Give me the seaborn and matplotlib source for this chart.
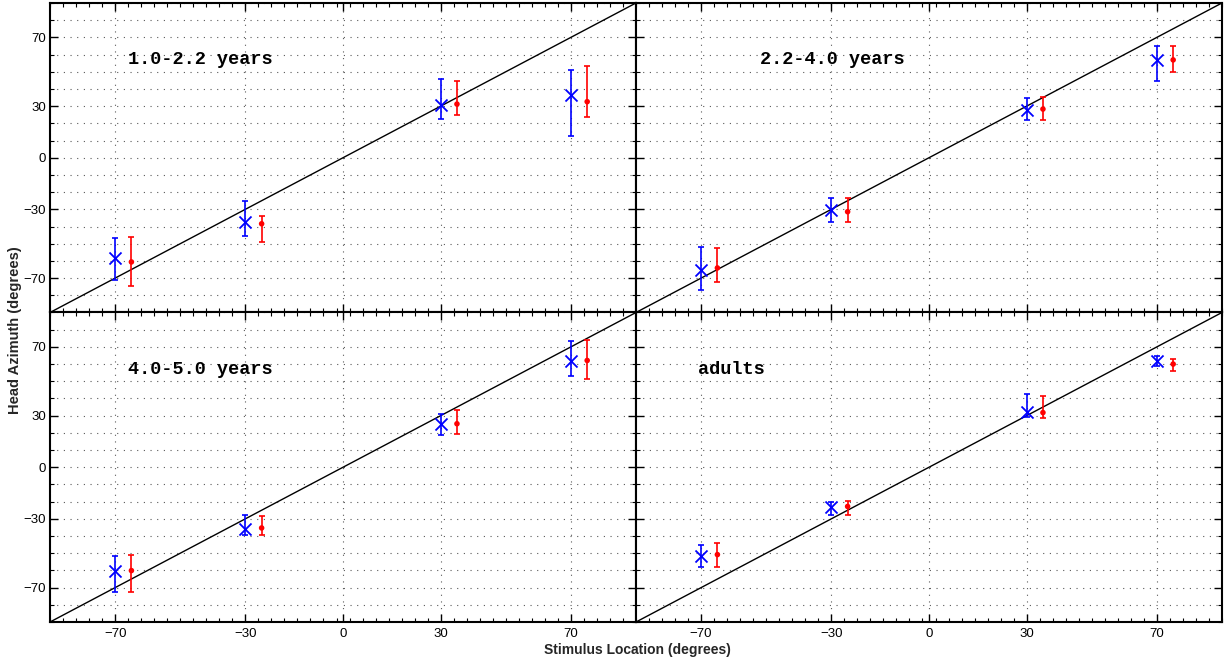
import numpy as np
import matplotlib
matplotlib.use("Agg")
import matplotlib.pyplot as plt
import seaborn as sns

# ---------------- data ----------------
locations = [-70, -30, 30, 70]
panel_titles = ["1.0-2.2 years", "2.2-4.0 years", "4.0-5.0 years", "adults"]

# blue (x markers): mean, lower end, upper end of error bar
blue_mean = [
    [-58.5, -37.4, 30.4, 36.6],
    [-65.2, -30.2, 27.9, 56.9],
    [-60.5, -35.7, 25.3, 61.5],
    [-51.4, -23.4, 32.1, 61.9],
]
blue_low = [
    [-70.9, -45.7, 22.7, 12.8],
    [-77.2, -37.5, 22.1, 44.6],
    [-72.5, -39.5, 18.9, 52.8],
    [-57.8, -27.5, 29.5, 58.6],
]
blue_high = [
    [-46.7, -25.4, 45.8, 51.0],
    [-51.7, -23.2, 34.5, 65.1],
    [-51.8, -27.6, 31.1, 73.7],
    [-45.0, -20.2, 42.6, 64.8],
]

# red (dots): mean, lower end, upper end of error bar
red_mean = [
    [-60.6, -38.4, 31.2, 32.6],
    [-64.1, -31.4, 28.3, 56.9],
    [-60.1, -35.3, 25.3, 62.1],
    [-50.8, -22.8, 31.8, 60.0],
]
red_low = [
    [-74.4, -49.0, 24.8, 23.7],
    [-72.4, -37.5, 22.1, 50.0],
    [-72.5, -39.5, 19.3, 51.2],
    [-57.8, -27.6, 28.6, 56.2],
]
red_high = [
    [-46.3, -33.7, 44.9, 53.1],
    [-52.3, -23.6, 35.1, 64.7],
    [-51.2, -28.2, 33.4, 74.1],
    [-43.9, -19.9, 41.5, 63.0],
]

major_ticks = [-70, -30, 0, 30, 70]

# ---------------- layout / style ----------------
red_shift = 5
title_pos = [(-66, 57), (-52, 57), (-66, 57), (-71, 57)]

sns.set_theme(style="white")
plt.rcParams["font.family"] = ["Liberation Sans", "DejaVu Sans"]

fig, axes = plt.subplots(2, 2, figsize=(12.29, 6.61), dpi=100,
                         sharex=True, sharey=True)
fig.subplots_adjust(left=0.0407, right=0.9943, top=0.9955, bottom=0.059,
                    wspace=0, hspace=0)

def fmt(t):
    return str(t) if t >= 0 else "\u2212" + str(-t)

for i, ax in enumerate(axes.flat):
    ax.set_facecolor("white")
    loc = np.array(locations, dtype=float)
    bm = np.array(blue_mean[i]); bl = np.array(blue_low[i]); bh = np.array(blue_high[i])
    rm = np.array(red_mean[i]); rl = np.array(red_low[i]); rh = np.array(red_high[i])

    # identity line
    sns.lineplot(x=[-90, 90], y=[-90, 90], color="black", linewidth=1.0,
                 ax=ax, zorder=2)

    # error bars
    ax.errorbar(loc, bm, yerr=[bm - bl, bh - bm], fmt="none", ecolor="blue",
                elinewidth=1.2, capsize=2.4, capthick=1.2, zorder=3)
    ax.errorbar(loc + red_shift, rm, yerr=[rm - rl, rh - rm], fmt="none",
                ecolor="red", elinewidth=1.2, capsize=2.4, capthick=1.2, zorder=3)

    # markers
    sns.scatterplot(x=loc, y=bm, marker="x", color="blue", s=75,
                    linewidth=1.3, ax=ax, zorder=4, legend=False)
    sns.scatterplot(x=loc + red_shift, y=rm, marker="o", color="red", s=16,
                    edgecolor="none", ax=ax, zorder=4, legend=False)

    ax.set_xlim(-90, 90)
    ax.set_ylim(-90, 90)
    ax.set_xticks(major_ticks)
    ax.set_xticks(np.arange(-90, 91, 4), minor=True)
    ax.set_yticks(major_ticks)
    ax.set_yticks(np.arange(-90, 91, 10), minor=True)
    ax.set_xticklabels([fmt(t) for t in major_ticks])
    ax.set_yticklabels([fmt(t) for t in major_ticks])

    ax.tick_params(which="both", direction="in", top=True, right=True,
                   bottom=True, left=True, colors="black", labelsize=9.5)
    ax.tick_params(which="major", length=5.5, width=1.0)
    ax.tick_params(which="minor", length=3, width=0.8)
    ax.tick_params(axis="x", pad=4)
    ax.tick_params(axis="y", pad=3)

    ax.grid(False)
    ax.grid(True, axis="x", which="major", linestyle=(0, (1, 5)),
            color="0.35", linewidth=0.8)
    ax.grid(True, axis="y", which="both", linestyle=(0, (1, 5)),
            color="0.35", linewidth=0.8)
    ax.set_axisbelow(True)

    for sp in ax.spines.values():
        sp.set_color("black")
        sp.set_linewidth(1.5)
        sp.set_visible(True)

    ax.set_xlabel("")
    ax.set_ylabel("")
    tx, ty = title_pos[i]
    ax.text(tx, ty, panel_titles[i], family=["Liberation Mono", "DejaVu Sans Mono"],
            fontweight="bold", fontsize=13.3, ha="left", va="center", color="black",
            zorder=5)

fig.text(0.519, 0.016, "Stimulus Location (degrees)", ha="center", va="center",
         fontweight="bold", fontsize=10)
fig.text(0.012, 0.5, "Head Azimuth (degrees)", ha="center", va="center",
         rotation=90, fontweight="bold", fontsize=10.5)

fig.savefig("out.png", dpi=100, facecolor="white")
